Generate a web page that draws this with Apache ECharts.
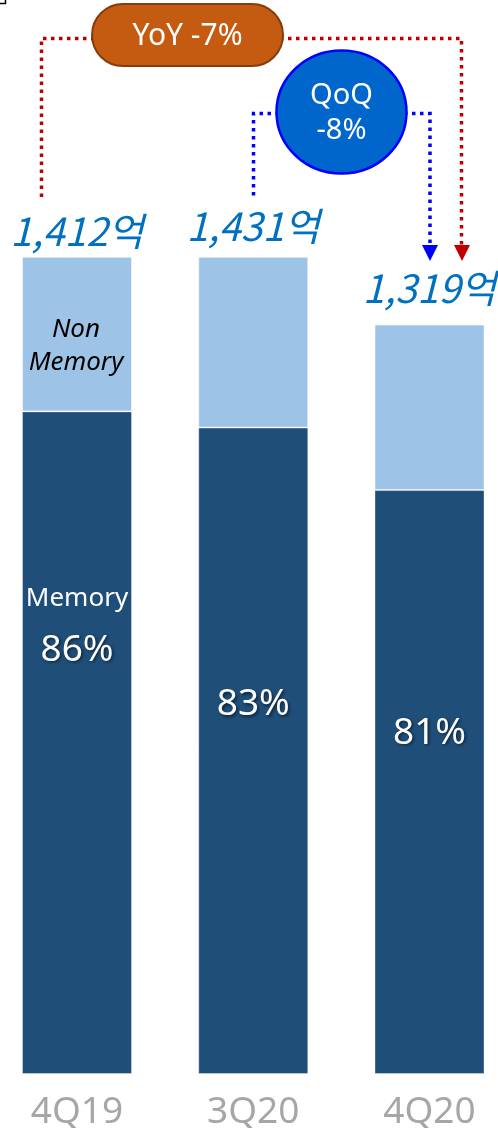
<!DOCTYPE html>
<html><head><meta charset="utf-8">
<script src="https://cdn.jsdelivr.net/npm/echarts@6/dist/echarts.min.js"></script>
<style>html,body{margin:0;padding:0;background:#fff}#c{width:498px;height:1128px}</style>
</head><body><div id="c"></div>
<script>
// ---- data (drawn segment heights in 억) ----
const categories = ['4Q19', '3Q20', '4Q20'];
const memory = [1145, 1117, 1009];
const nonMemory = [267, 295, 286];
const totalLabels = ['1,412억', '1,431억', '1,319억'];
const memoryShareLabels = ['86%', '83%', '81%'];
const yoyLabel = 'YoY -7%';
const qoqLabel = ['QoQ', '-8%'];

// ---- layout / style ----
const totalLabelGap = [6, 11, 16];
const pctLabelY = [162, 250, 216];
const totals = memory.map((m, i) => m + nonMemory[i]);

const chart = echarts.init(document.getElementById('c'), null, {renderer: 'canvas'});

const latin = 'Noto Sans';
const shadow = {textShadowColor: 'rgba(0,0,0,0.55)', textShadowBlur: 3, textShadowOffsetX: 1.5, textShadowOffsetY: 1.5};

const memoryData = memory.map((v, i) => ({
  value: v,
  label: {
    show: true,
    position: [55, pctLabelY[i]],
    align: 'center',
    verticalAlign: 'top',
    formatter: i === 0 ? '{m|Memory}\n{p|' + memoryShareLabels[i] + '}' : '{p|' + memoryShareLabels[i] + '}',
    rich: {
      m: {fontFamily: latin, fontSize: 26, color: '#fff', lineHeight: 50, align: 'center'},
      p: Object.assign({fontFamily: latin, fontSize: 37, color: '#fff', lineHeight: 54, align: 'center'}, shadow)
    }
  }
}));

const nonMemoryData = nonMemory.map((v, i) => ({
  value: v,
  label: i === 0 ? {
    show: true,
    position: [54, 89],
    align: 'center',
    verticalAlign: 'middle',
    formatter: 'Non\nMemory',
    fontFamily: latin,
    fontStyle: 'italic',
    fontSize: 26,
    lineHeight: 33,
    color: '#000'
  } : {show: false}
}));

const totalData = totals.map((v, i) => ({
  value: v,
  label: {show: true, position: 'top', distance: totalLabelGap[i], formatter: totalLabels[i]}
}));

chart.setOption({
  animation: false,
  backgroundColor: '#fff',
  grid: {left: 77, right: 68.5, top: 74, bottom: 54, containLabel: false, outerBoundsMode: 'none'},
  xAxis: {
    type: 'category',
    data: categories,
    boundaryGap: false,
    axisLine: {show: false},
    axisTick: {show: false},
    splitLine: {show: false},
    axisLabel: {color: '#a6a6a6', fontFamily: latin, fontSize: 37, margin: 20}
  },
  yAxis: {type: 'value', min: 0, max: 1728, show: false, splitLine: {show: false}},
  series: [
    {
      name: 'Memory', type: 'bar', stack: 's', barWidth: 110,
      itemStyle: {color: '#1F4E79', borderColor: 'rgba(255,255,255,0.35)', borderWidth: 1},
      data: memoryData
    },
    {
      name: 'Non Memory', type: 'bar', stack: 's', barWidth: 110,
      itemStyle: {color: '#9DC3E6', borderColor: 'rgba(255,255,255,0.5)', borderWidth: 1},
      data: nonMemoryData
    },
    {
      name: 'Total', type: 'scatter', symbolSize: 1, itemStyle: {color: 'rgba(0,0,0,0)', opacity: 1},
      label: {color: '#0070C0', opacity: 1, fontFamily: 'Noto Sans CJK KR', fontStyle: 'italic', fontSize: 39},
      emphasis: {disabled: true},
      data: totalData, z: 5
    }
  ],
  graphic: [
    {type: 'polyline', shape: {points: [[0, 3.5], [5.5, 3.5], [5.5, 0]]}, style: {stroke: '#000', lineWidth: 1.5, fill: null}},
    // YoY red connector
    {type: 'polyline', z: 10, shape: {points: [[41.5, 197], [41.5, 38.5], [95, 38.5]]}, style: {stroke: '#C00000', lineWidth: 3.5, lineDash: [3.5, 4.5], fill: null}},
    {type: 'polyline', z: 10, shape: {points: [[280, 38.5], [461.5, 38.5], [461.5, 246]]}, style: {stroke: '#C00000', lineWidth: 3.5, lineDash: [3.5, 4.5], fill: null}},
    {type: 'polygon', z: 10, shape: {points: [[454, 245], [470, 245], [462, 261]]}, style: {fill: '#C00000'}},
    {type: 'rect', z: 11, shape: {x: 92, y: 4, width: 191, height: 62, r: 31}, style: {fill: '#C55A11', stroke: '#843C0C', lineWidth: 2}},
    {type: 'text', z: 12, x: 187.5, y: 36, style: {text: yoyLabel, fill: '#fff', font: '30px "Noto Sans"', align: 'center', verticalAlign: 'middle'}},
    // QoQ blue connector
    {type: 'polyline', z: 10, shape: {points: [[279, 113.5], [253.5, 113.5], [253.5, 199]]}, style: {stroke: '#0000FF', lineWidth: 3.5, lineDash: [3.5, 4.5], fill: null}},
    {type: 'polyline', z: 10, shape: {points: [[404, 113.5], [430, 113.5], [430, 246]]}, style: {stroke: '#0000FF', lineWidth: 3.5, lineDash: [3.5, 4.5], fill: null}},
    {type: 'polygon', z: 10, shape: {points: [[422, 245], [438, 245], [430, 261]]}, style: {fill: '#0000FF'}},
    {type: 'ellipse', z: 11, shape: {cx: 341.5, cy: 112, rx: 65, ry: 61.5}, style: {fill: '#0066CC', stroke: '#0000FF', lineWidth: 2.5}},
    {type: 'text', z: 12, x: 341.5, y: 96, style: {text: qoqLabel[0], fill: '#fff', font: '29px "Noto Sans"', align: 'center', verticalAlign: 'middle'}},
    {type: 'text', z: 12, x: 341.5, y: 131, style: {text: qoqLabel[1], fill: '#fff', font: '29px "Noto Sans"', align: 'center', verticalAlign: 'middle'}}
  ]
});
</script></body></html>
